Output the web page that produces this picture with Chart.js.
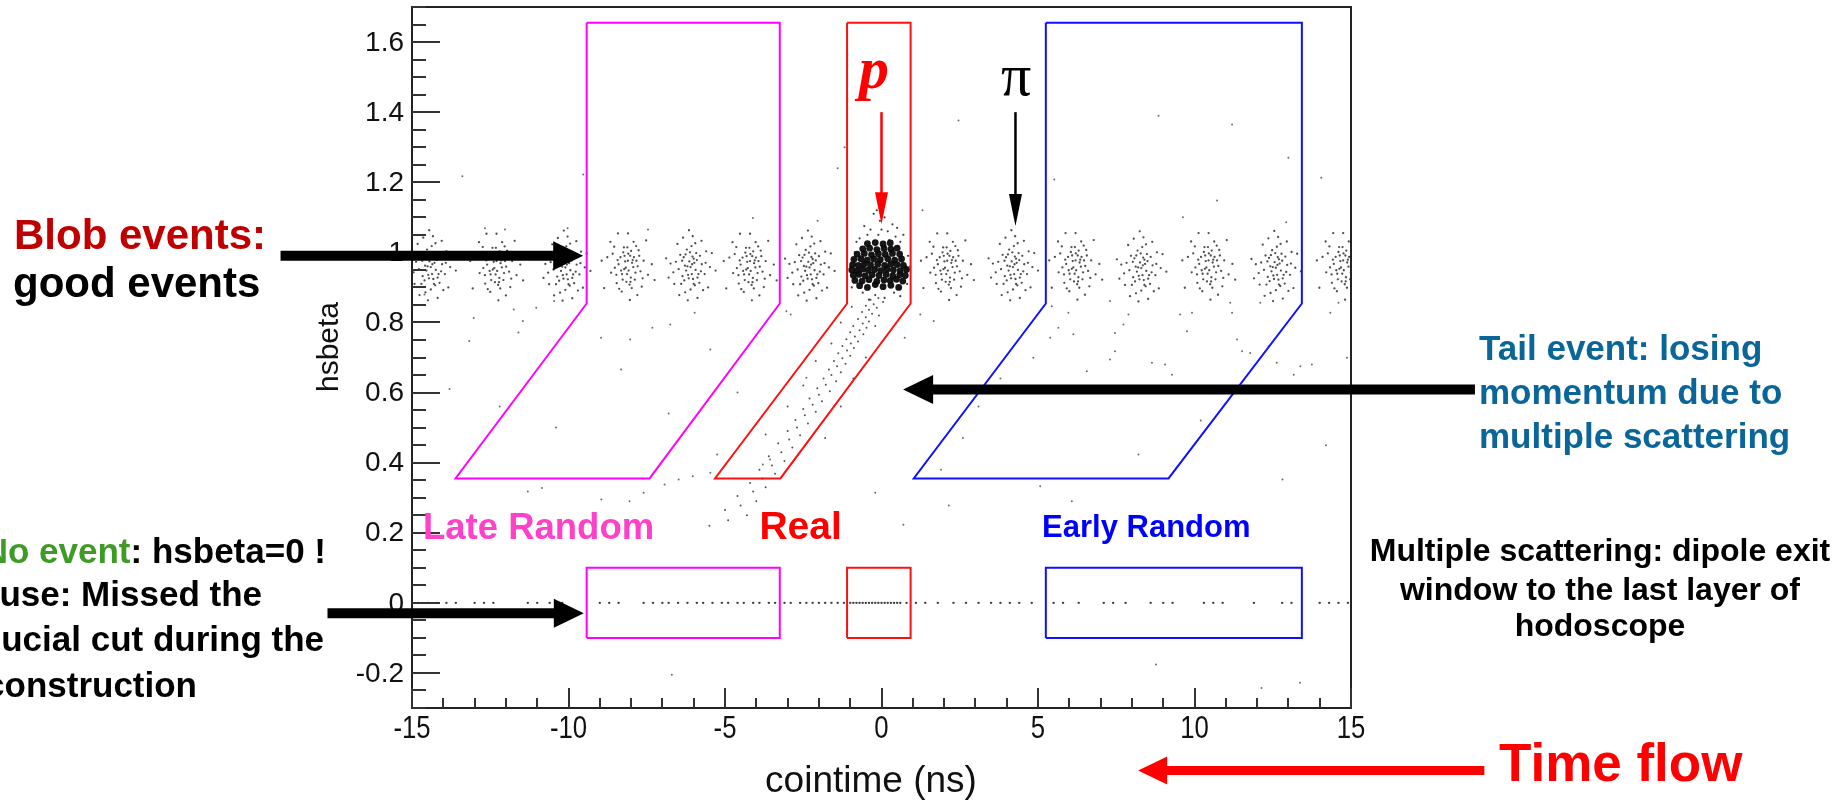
<!DOCTYPE html>
<html>
<head>
<meta charset="utf-8">
<title>hsbeta vs cointime</title>
<script src="https://cdn.jsdelivr.net/npm/chart.js@4.4.1/dist/chart.umd.min.js"></script>
<style>
  html, body { margin: 0; padding: 0; background: #fff; }
  #wrap { width: 1832px; height: 800px; }
</style>
</head>
<body>
<div id="wrap"><canvas id="coinChart" width="1832" height="800"></canvas></div>
<script>
// axis ranges
const timeRange = [-15, 15];
const betaRange = [-0.3, 1.7];

// accidental bunches (ns) and their hsbeta centre; the prompt peak is listed on its own
const bunchTimes = [-14.4, -12.3, -10.1, -8.1, -6.1, -4.2, -2.3, 2.1, 4.2, 6.2, 8.3, 10.45, 12.6, 14.75];
const bunchBeta = [0.958, 0.955, 0.957, 0.956, 0.958, 0.955, 0.957, 0.956, 0.958, 0.957, 0.955, 0.957, 0.956, 0.957];

// event spread around a bunch centre, [dt, dbeta]
const bunchSpreadA = [
  [0.00, 0.000], [0.12, 0.012], [-0.14, -0.010], [0.25, -0.020], [-0.27, 0.018], [0.06, 0.030],
  [-0.06, -0.032], [0.18, 0.040], [-0.20, -0.038], [0.36, 0.008], [-0.38, -0.006], [0.10, -0.048],
  [-0.12, 0.050], [0.30, 0.032], [-0.33, 0.035], [0.28, -0.045], [-0.30, -0.048], [0.03, 0.060],
  [0.00, -0.064], [0.45, -0.020], [-0.47, 0.015], [0.15, 0.068], [-0.17, -0.072], [0.50, 0.045],
  [-0.52, -0.048], [0.40, -0.066], [-0.42, 0.066], [0.62, 0.000], [-0.64, 0.010], [0.07, 0.088],
  [-0.09, -0.095], [0.56, -0.058], [-0.05, 0.105], [0.68, 0.040], [-0.70, -0.030], [0.22, -0.088],
  [-0.24, 0.084], [0.04, -0.020], [-0.04, 0.016], [0.16, -0.008], [-0.18, 0.004], [0.10, 0.024],
  [-0.08, -0.022], [0.33, -0.012], [-0.26, -0.026], [0.80, -0.010], [-0.78, 0.025], [0.35, 0.075],
  [-0.36, -0.080], [0.20, 0.020], [-0.22, 0.028], [0.08, -0.034], [-0.02, 0.042], [0.48, 0.012],
  [-0.55, -0.015], [0.05, 0.008], [-0.10, 0.002], [0.22, -0.030], [-0.16, 0.036], [0.14, -0.052]
];
const bunchSpreadB = [
  [0.02, -0.008], [-0.09, 0.018], [0.17, 0.002], [-0.19, -0.018], [0.07, 0.034], [-0.05, -0.040],
  [0.27, 0.020], [-0.30, 0.010], [0.22, -0.034], [-0.15, 0.044], [0.40, -0.010], [-0.42, 0.000],
  [0.12, -0.058], [-0.02, 0.058], [0.34, 0.050], [-0.36, -0.044], [0.50, 0.020], [-0.54, -0.014],
  [0.18, 0.074], [-0.20, -0.068], [0.44, -0.054], [-0.44, 0.060], [0.64, -0.020], [-0.66, 0.030],
  [0.00, 0.098], [0.06, -0.092], [-0.56, 0.074], [0.58, 0.078], [0.76, 0.010], [-0.76, -0.058],
  [0.30, -0.078], [-0.32, 0.098], [0.13, 0.014], [-0.12, -0.004], [0.00, 0.020], [0.24, -0.014],
  [-0.24, 0.030], [0.09, -0.028], [-0.07, 0.000], [0.19, 0.030], [-0.17, -0.034], [0.36, 0.034],
  [-0.37, -0.020], [0.01, 0.040], [0.05, -0.048], [0.85, -0.035], [-0.84, 0.020], [0.26, 0.062],
  [-0.28, -0.060], [0.10, 0.048], [-0.11, 0.034], [0.47, -0.030], [-0.49, 0.040], [0.31, 0.004],
  [-0.33, 0.022], [-0.03, -0.018], [0.15, 0.022], [-0.22, -0.008], [0.08, -0.040], [-0.13, 0.058]
];

// prompt (real) coincidence peak, [t, beta]
const promptCore = [
  [-0.70, 0.905], [-0.45, 0.900], [-0.20, 0.908], [0.05, 0.902], [0.30, 0.906], [0.55, 0.900],
  [-0.85, 0.920], [-0.62, 0.918], [-0.40, 0.922], [-0.15, 0.917], [0.08, 0.921], [0.28, 0.919], [0.48, 0.923], [0.68, 0.918],
  [-0.90, 0.935], [-0.72, 0.937], [-0.52, 0.933], [-0.30, 0.936], [-0.08, 0.934], [0.15, 0.937], [0.36, 0.933], [0.58, 0.936], [0.76, 0.934],
  [-0.95, 0.950], [-0.78, 0.948], [-0.60, 0.952], [-0.42, 0.949], [-0.22, 0.951], [-0.02, 0.948], [0.18, 0.952], [0.38, 0.950], [0.60, 0.948], [0.80, 0.951],
  [-0.92, 0.965], [-0.74, 0.963], [-0.55, 0.967], [-0.35, 0.964], [-0.12, 0.966], [0.10, 0.963], [0.30, 0.967], [0.50, 0.965], [0.70, 0.963],
  [-0.88, 0.980], [-0.66, 0.982], [-0.46, 0.978], [-0.25, 0.981], [-0.04, 0.979], [0.20, 0.982], [0.42, 0.978], [0.64, 0.981],
  [-0.78, 0.995], [-0.55, 0.997], [-0.32, 0.993], [-0.10, 0.996], [0.12, 0.994], [0.35, 0.997], [0.58, 0.995],
  [-0.60, 1.010], [-0.38, 1.012], [-0.15, 1.008], [0.08, 1.011], [0.30, 1.009], [0.50, 1.012],
  [-0.45, 1.025], [-0.20, 1.028], [0.05, 1.024], [0.28, 1.027]
];
const promptHalo = [
  [-0.70, 1.040], [0.45, 1.045], [-0.10, 1.050], [0.20, 1.060], [-0.35, 1.065], [0.35, 1.080],
  [-0.05, 1.090], [-0.55, 1.075], [0.60, 1.030], [0.10, 1.100], [-0.25, 1.110], [0.50, 1.070],
  [-0.85, 1.000], [0.85, 0.990], [-0.95, 0.900], [0.82, 0.910], [-0.60, 0.885], [0.40, 0.885],
  [-0.20, 0.878], [0.10, 0.870], [-0.40, 0.865], [0.60, 0.875], [-1.00, 0.960], [0.92, 0.960],
  [-0.15, 1.120], [0.25, 1.035], [-0.45, 1.050], [0.70, 1.050], [-0.80, 1.030], [0.00, 1.065]
];

// low-momentum tail under the prompt peak
const tailEvents = [
  [-0.10, 0.870], [-0.35, 0.865], [0.05, 0.858], [-0.25, 0.852], [-0.50, 0.848], [-0.15, 0.842],
  [-0.40, 0.836], [-0.62, 0.830], [-0.30, 0.825], [-0.08, 0.820], [-0.50, 0.815], [-0.75, 0.810],
  [-0.40, 0.803], [-0.60, 0.797], [-0.90, 0.790], [-0.48, 0.785], [-0.70, 0.778], [-1.00, 0.772],
  [-0.58, 0.766], [-0.85, 0.760], [-1.12, 0.752], [-0.75, 0.746], [-0.98, 0.740], [-1.25, 0.733],
  [-0.88, 0.727], [-1.10, 0.720], [-1.38, 0.712], [-1.00, 0.705], [-1.25, 0.698], [-1.52, 0.690],
  [-1.15, 0.682], [-1.42, 0.675], [-1.68, 0.666], [-1.30, 0.658], [-1.60, 0.650], [-1.85, 0.640],
  [-1.45, 0.632], [-1.78, 0.622], [-2.05, 0.612], [-1.65, 0.604], [-2.00, 0.594], [-2.30, 0.583],
  [-1.90, 0.575], [-2.20, 0.565], [-2.50, 0.553], [-2.10, 0.545], [-2.45, 0.535], [-2.75, 0.522],
  [-2.35, 0.512], [-2.70, 0.500], [-3.00, 0.490], [-2.60, 0.478], [-2.95, 0.466], [-3.30, 0.455],
  [-2.85, 0.443], [-3.20, 0.430], [-3.60, 0.418], [-3.10, 0.405], [-3.50, 0.392], [-3.90, 0.380],
  [-3.40, 0.368], [-3.80, 0.355], [-4.20, 0.342], [-3.70, 0.330], [-4.10, 0.318], [-4.60, 0.305],
  [-4.00, 0.290], [-4.50, 0.278], [-5.00, 0.265], [-4.30, 0.250], [-4.90, 0.236], [-5.50, 0.220],
  [-0.95, 0.845], [-1.30, 0.800], [-0.20, 0.790], [-1.60, 0.740], [-0.50, 0.700], [-2.10, 0.690],
  [-0.90, 0.640], [-2.50, 0.620], [-1.30, 0.560], [-3.00, 0.560], [-1.80, 0.470], [-3.70, 0.480]
];

// isolated events away from the bunches
const strayEvents = [
  [-13.39, 1.217], [-9.53, 1.222], [-1.18, 1.300], [2.46, 1.376], [-1.40, 1.240], [-4.11, 1.098],
  [-2.04, 1.090], [1.31, 1.120], [-12.67, 1.069], [-12.03, 1.065], [-10.03, 1.069], [-7.46, 1.065],
  [8.85, 1.390], [11.20, 1.365], [13.00, 1.270], [14.05, 1.213], [5.52, 1.208], [10.72, 1.148],
  [9.63, 1.100], [12.93, 1.086],
  [5.44, 0.846], [5.97, 0.828], [5.65, 0.785], [7.30, 0.861], [7.73, 0.794], [7.89, 0.823],
  [7.46, 0.770], [5.39, 0.756], [6.13, 0.766], [4.85, 0.699], [6.56, 0.661], [7.30, 0.694],
  [7.46, 0.718], [9.54, 0.823], [9.76, 0.775], [9.92, 0.828], [11.20, 0.828], [11.14, 0.856],
  [11.36, 0.751], [11.52, 0.718], [11.78, 0.713], [12.10, 0.856], [12.37, 0.732], [12.63, 0.685],
  [13.17, 0.651], [13.38, 0.675], [13.75, 0.680], [14.34, 0.828], [14.60, 0.856], [14.87, 0.699],
  [8.64, 0.685], [9.06, 0.680], [9.28, 0.651],
  [-13.03, 0.813], [-11.75, 0.837], [-11.46, 0.804], [-11.03, 0.842], [-10.46, 0.861], [-8.96, 0.756],
  [-8.03, 0.751], [-7.32, 0.785], [-6.75, 0.794], [-5.97, 0.828], [-5.47, 0.723], [-3.04, 0.832],
  [-2.90, 0.823], [0.74, 0.756], [1.24, 0.823], [1.67, 0.804], [-2.40, 0.642], [-8.32, 0.666],
  [-13.17, 0.747], [-11.60, 0.771],
  [-11.30, 0.318], [-10.85, 0.328], [-8.95, 0.295], [-8.05, 0.290], [-7.60, 0.314], [-6.93, 0.338],
  [-6.48, 0.352], [-6.03, 0.361], [-5.47, 0.371], [-5.25, 0.423], [-3.79, 0.395], [-3.56, 0.409],
  [-0.20, 0.314], [2.15, 0.278], [0.70, 0.223], [6.08, 0.290], [5.07, 0.333], [8.21, 0.423],
  [12.81, 0.352], [13.37, -0.228], [8.77, -0.176], [12.14, -0.243], [-6.70, -0.205],
  [3.10, 0.560], [2.60, 0.470], [3.80, 0.640], [-12.20, 0.560], [-13.80, 0.610], [-10.40, 0.500],
  [14.20, 0.450], [10.20, 0.520], [1.90, 0.380], [-4.60, 0.600], [-6.80, 0.540], [-14.60, 0.880]
];

// events reconstructed with hsbeta = 0
const zeroBetaTimes = [
  -14.8, -14.5, -14.2, -13.9, -13.6, -13.0, -12.7, -12.4, -11.3, -11.0, -10.6, -10.2, -9.0, -8.7,
  -8.4, -7.6, -7.3, -7.0, -6.8, -6.5, -6.2, -5.9, -5.7, -5.4, -5.1, -4.9, -4.6, -4.4, -4.1, -3.9,
  -3.6, -3.4, -3.1, -2.9, -2.6, -2.4, -2.2, -2.0, -1.8, -1.6, -1.4, -1.2, -1.0, -0.9, -0.8, -0.7,
  -0.6, -0.5, -0.4, -0.3, -0.2, -0.1, 0.0, 0.1, 0.2, 0.3, 0.4, 0.5, 0.6, 0.8, 1.1, 1.4, 1.8, 2.3,
  2.7, 3.1, 3.5, 3.8, 4.1, 4.4, 4.8, 5.5, 5.8, 6.3, 7.1, 7.4, 7.8, 8.6, 9.0, 9.3, 10.3, 10.6, 10.9,
  11.9, 12.8, 13.1, 14.0, 14.3, 14.6, 14.9
];

// cut windows, [t, beta] vertices
const lateCut = [[-9.42, 1.655], [-3.25, 1.655], [-3.25, 0.854], [-7.41, 0.355], [-13.61, 0.355], [-9.42, 0.854], [-9.42, 1.655]];
const realCut = [[-1.10, 1.655], [0.93, 1.655], [0.93, 0.854], [-3.23, 0.355], [-5.32, 0.355], [-1.10, 0.854], [-1.10, 1.655]];
const earlyCut = [[5.25, 1.655], [13.43, 1.655], [13.43, 0.854], [9.17, 0.355], [1.03, 0.355], [5.25, 0.854], [5.25, 1.655]];
const lateZeroCut = [[-9.42, -0.1], [-3.25, -0.1], [-3.25, 0.1], [-9.42, 0.1], [-9.42, -0.1]];
const realZeroCut = [[-1.10, -0.1], [0.93, -0.1], [0.93, 0.1], [-1.10, 0.1], [-1.10, -0.1]];
const earlyZeroCut = [[5.25, -0.1], [13.43, -0.1], [13.43, 0.1], [5.25, 0.1], [5.25, -0.1]];

const SANS = '"Liberation Sans", Arial, Helvetica, sans-serif';
const SERIF = '"Liberation Serif", "Times New Roman", serif';

const toXY = list => list.map(([x, y]) => ({ x, y }));

const bunchPoints = [];
bunchTimes.forEach((t, i) => {
  const spread = i % 2 ? bunchSpreadB : bunchSpreadA;
  spread.forEach(([dt, db]) => bunchPoints.push({ x: t + dt, y: bunchBeta[i] + db }));
});
const zeroPoints = zeroBetaTimes.map(t => ({ x: t, y: 0 }));

function cutLine(pts, color) {
  return {
    data: toXY(pts), showLine: true, borderColor: color, borderWidth: 2,
    pointRadius: 0, fill: false, tension: 0
  };
}
function dots(pts, radius, color) {
  return {
    data: pts, showLine: false, pointRadius: radius, pointBorderWidth: 0,
    pointBackgroundColor: color, pointHoverRadius: radius
  };
}

// arrows and notes, given in axis units so they stay tied to the frame
const pointers = [
  { from: [-19.2, 0.99], to: [-9.53, 0.99], width: 10, head: 30, half: 14.5, color: '#000' },
  { from: [-17.7, -0.03], to: [-9.51, -0.03], width: 10, head: 30, half: 14.5, color: '#000' },
  { from: [18.96, 0.609], to: [0.69, 0.609], width: 10, head: 30, half: 14.5, color: '#000' },
  { from: [19.26, -0.478], to: [8.2, -0.478], width: 9, head: 29, half: 14, color: '#ff0000' },
  { from: [0.0, 1.40], to: [0.0, 1.08], width: 2.5, head: 32, half: 6.5, color: '#ff0000' },
  { from: [4.28, 1.40], to: [4.28, 1.075], width: 2.5, head: 32, half: 6.5, color: '#000' }
];
const windowLabels = [
  { text: 'Late Random', t: -14.65, beta: 0.183, font: 'bold 36.5px ' + SANS, color: '#ff40c8' },
  { text: 'Real', t: -3.9, beta: 0.183, font: 'bold 39px ' + SANS, color: '#ff0000' },
  { text: 'Early Random', t: 5.13, beta: 0.188, font: 'bold 31px ' + SANS, color: '#0000ff' }
];

function drawArrow(ctx, x0, y0, x1, y1, p) {
  const a = Math.atan2(y1 - y0, x1 - x0);
  const bx = x1 - p.head * Math.cos(a), by = y1 - p.head * Math.sin(a);
  ctx.save();
  ctx.strokeStyle = p.color;
  ctx.fillStyle = p.color;
  ctx.lineWidth = p.width;
  ctx.beginPath();
  ctx.moveTo(x0, y0);
  ctx.lineTo(bx + Math.cos(a), by + Math.sin(a));
  ctx.stroke();
  ctx.beginPath();
  ctx.moveTo(x1, y1);
  ctx.lineTo(bx + p.half * Math.sin(a), by - p.half * Math.cos(a));
  ctx.lineTo(bx - p.half * Math.sin(a), by + p.half * Math.cos(a));
  ctx.closePath();
  ctx.fill();
  ctx.restore();
}

function text(ctx, str, x, y, font, color, align) {
  ctx.font = font;
  ctx.fillStyle = color;
  ctx.textAlign = align || 'left';
  ctx.textBaseline = 'alphabetic';
  ctx.fillText(str, x, y);
}

const isMajorBeta = v => Math.abs(v * 5 - Math.round(v * 5)) < 1e-6;
const isMajorTime = v => Math.round(v) % 5 === 0;

// frame, inward ticks and tick labels, ROOT style
const frameTicks = {
  id: 'frameTicks',
  beforeDatasetsDraw(chart) {
    const { ctx, chartArea: a, scales: { x, y } } = chart;
    ctx.save();
    ctx.fillStyle = '#111';
    ctx.font = '28px ' + SANS;
    ctx.textAlign = 'right';
    ctx.textBaseline = 'middle';
    y.ticks.forEach(tk => {
      if (!isMajorBeta(tk.value)) return;
      const label = String(parseFloat(tk.value.toFixed(1)) || 0);
      ctx.fillText(label, a.left - 8, y.getPixelForValue(tk.value) + 1);
    });
    ctx.font = '31px ' + SANS;
    ctx.textAlign = 'center';
    ctx.textBaseline = 'alphabetic';
    x.ticks.forEach(tk => {
      if (!isMajorTime(tk.value)) return;
      ctx.save();
      ctx.translate(x.getPixelForValue(tk.value), 738);
      ctx.scale(0.83, 1);
      ctx.fillText(String(Math.round(tk.value)), 0, 0);
      ctx.restore();
    });
    ctx.restore();
  },
  afterDatasetsDraw(chart) {
    const { ctx, chartArea: a, scales: { x, y } } = chart;
    ctx.save();
    ctx.strokeStyle = '#222';
    ctx.lineWidth = 2;
    ctx.strokeRect(a.left, a.top, a.right - a.left, a.bottom - a.top);
    ctx.strokeStyle = '#333';
    ctx.beginPath();
    y.ticks.forEach(tk => {
      const py = Math.round(y.getPixelForValue(tk.value));
      ctx.moveTo(a.left, py);
      ctx.lineTo(a.left + (isMajorBeta(tk.value) ? 28 : 14), py);
    });
    x.ticks.forEach(tk => {
      const px = Math.round(x.getPixelForValue(tk.value));
      ctx.moveTo(px, a.bottom);
      ctx.lineTo(px, a.bottom - (isMajorTime(tk.value) ? 20 : 10));
    });
    ctx.stroke();
    ctx.restore();
  }
};

const notes = {
  id: 'notes',
  afterDraw(chart) {
    const { ctx, scales: { x, y } } = chart;
    ctx.save();

    // axis titles
    text(ctx, 'cointime (ns)', 871, 792, '37px ' + SANS, '#111', 'center');
    ctx.save();
    ctx.translate(338, 347);
    ctx.rotate(-Math.PI / 2);
    text(ctx, 'hsbeta', 0, 0, '30px ' + SANS, '#111', 'center');
    ctx.restore();

    // window names and particle marks
    windowLabels.forEach(l => text(ctx, l.text, x.getPixelForValue(l.t), y.getPixelForValue(l.beta), l.font, l.color));
    text(ctx, 'p', x.getPixelForValue(-0.24), y.getPixelForValue(1.47), 'bold italic 60px ' + SERIF, '#ff0000', 'center');
    text(ctx, 'π', x.getPixelForValue(4.3), y.getPixelForValue(1.45), '60px ' + SERIF, '#000', 'center');

    pointers.forEach(p => drawArrow(ctx,
      x.getPixelForValue(p.from[0]), y.getPixelForValue(p.from[1]),
      x.getPixelForValue(p.to[0]), y.getPixelForValue(p.to[1]), p));

    // left-hand notes
    const B42 = 'bold 42px ' + SANS;
    text(ctx, 'Blob events:', 14, 249, B42, '#c00000');
    text(ctx, 'good events', 13, 297, B42, '#000');

    const B35 = 'bold 35px ' + SANS;
    ctx.font = B35;
    const tailPart = ': hsbeta=0 !';
    const tailW = ctx.measureText(tailPart).width;
    text(ctx, tailPart, 326, 563, B35, '#000', 'right');
    text(ctx, 'No event', 326 - tailW, 563, B35, '#3f9a27', 'right');
    text(ctx, 'Cause: Missed the', 262, 606, B35, '#000', 'right');
    text(ctx, 'fiducial cut during the', 324, 651, B35, '#000', 'right');
    text(ctx, 'reconstruction', 197, 697, B35, '#000', 'right');

    // right-hand notes
    text(ctx, 'Tail event: losing', 1479, 360, B35, '#0a6699');
    text(ctx, 'momentum due to', 1479, 404, B35, '#0a6699');
    text(ctx, 'multiple scattering', 1479, 448, B35, '#0a6699');

    const B32 = 'bold 32px ' + SANS;
    text(ctx, 'Multiple scattering: dipole exit', 1600, 561, B32, '#000', 'center');
    text(ctx, 'window to the last layer of', 1600, 600, B32, '#000', 'center');
    text(ctx, 'hodoscope', 1600, 636, B32, '#000', 'center');

    text(ctx, 'Time flow', 1499, 781, 'bold 53px ' + SANS, '#ff0000');
    ctx.restore();
  }
};

new Chart(document.getElementById('coinChart'), {
  type: 'scatter',
  data: {
    datasets: [
      cutLine(lateCut, '#ff00ff'),
      cutLine(realCut, '#ff1010'),
      cutLine(earlyCut, '#1010ff'),
      cutLine(lateZeroCut, '#ff00ff'),
      cutLine(realZeroCut, '#ff1010'),
      cutLine(earlyZeroCut, '#1010ff'),
      dots(toXY(promptCore), 3.4, 'rgba(10,10,10,0.95)'),
      dots(toXY(promptHalo), 1.1, 'rgba(30,30,30,0.85)'),
      dots(bunchPoints, 1.15, 'rgba(35,35,35,0.8)'),
      dots(toXY(tailEvents), 1.0, 'rgba(40,40,40,0.8)'),
      dots(toXY(strayEvents), 1.0, 'rgba(60,60,60,0.75)'),
      dots(zeroPoints, 1.2, 'rgba(30,30,30,0.85)')
    ]
  },
  options: {
    responsive: false,
    animation: false,
    devicePixelRatio: 1,
    layout: { padding: { left: 0, right: 481, top: 7, bottom: 0 } },
    plugins: { legend: { display: false }, tooltip: { enabled: false } },
    scales: {
      x: {
        type: 'linear', min: timeRange[0], max: timeRange[1],
        border: { display: false }, grid: { display: false },
        ticks: { display: false, stepSize: 1, autoSkip: false },
        afterFit: s => { s.height = 92; }
      },
      y: {
        type: 'linear', min: betaRange[0], max: betaRange[1],
        border: { display: false }, grid: { display: false },
        ticks: { display: false, stepSize: 0.05, autoSkip: false },
        afterFit: s => { s.width = 412; }
      }
    }
  },
  plugins: [frameTicks, notes]
});
</script>
</body>
</html>
